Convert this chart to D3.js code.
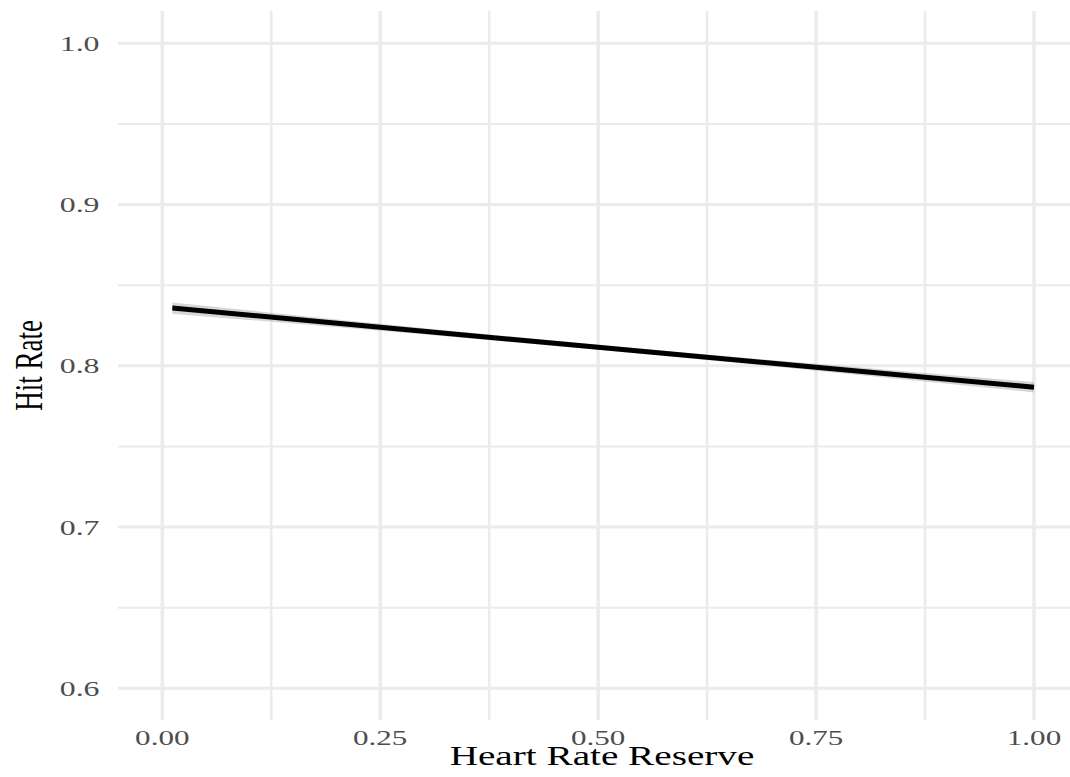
<!DOCTYPE html>
<html>
<head>
<meta charset="utf-8">
<script src="https://cdn.jsdelivr.net/npm/d3@7"></script>
<style>
html,body{margin:0;padding:0;background:#fff;}
svg{display:block;}
</style>
</head>
<body>
<svg id="chart" width="1070" height="777"></svg>
<script>
// ---- data ----
const fitX = [0.0115, 0.25, 0.5, 0.75, 1.0];
const fitY = [0.8358, 0.8239, 0.8115, 0.7991, 0.7867];
const fitSE = [0.0035, 0.0022, 0.0016, 0.0021, 0.0032];
const xMajorTicks = [0, 0.25, 0.5, 0.75, 1.0];
const xTickLabels = ["0.00", "0.25", "0.50", "0.75", "1.00"];
const xMinorTicks = [0.125, 0.375, 0.625, 0.875];
const yMajorTicks = [0.6, 0.7, 0.8, 0.9, 1.0];
const yTickLabels = ["0.6", "0.7", "0.8", "0.9", "1.0"];
const yMinorTicks = [0.65, 0.75, 0.85, 0.95];
const xTitle = "Heart Rate Reserve";
const yTitle = "Hit Rate";

// ---- layout ----
const svg = d3.select("#chart");
const panel = {left: 118, right: 1078, top: 11, bottom: 720};
const x = d3.scaleLinear().domain([0, 1]).range([162.3, 1034]);
const y = d3.scaleLinear().domain([0.6, 1.0]).range([688.3, 43.3]);
const stretch = 1.48;
const serif = "'Liberation Serif','Times New Roman',serif";

const grid = svg.append("g");
// minor grid
grid.selectAll(".yminor").data(yMinorTicks).join("line")
  .attr("x1", panel.left).attr("x2", panel.right)
  .attr("y1", d => y(d)).attr("y2", d => y(d))
  .attr("stroke", "#ebebeb").attr("stroke-width", 2);
grid.selectAll(".xminor").data(xMinorTicks).join("line")
  .attr("y1", panel.top).attr("y2", panel.bottom)
  .attr("x1", d => x(d)).attr("x2", d => x(d))
  .attr("stroke", "#ebebeb").attr("stroke-width", 2.5);
// major grid
grid.selectAll(".ymajor").data(yMajorTicks).join("line")
  .attr("x1", panel.left).attr("x2", panel.right)
  .attr("y1", d => y(d)).attr("y2", d => y(d))
  .attr("stroke", "#ebebeb").attr("stroke-width", 3);
grid.selectAll(".xmajor").data(xMajorTicks).join("line")
  .attr("y1", panel.top).attr("y2", panel.bottom)
  .attr("x1", d => x(d)).attr("x2", d => x(d))
  .attr("stroke", "#ebebeb").attr("stroke-width", 3.5);

// ribbon + line
const pts = fitX.map((d, i) => ({x: d, y: fitY[i], se: fitSE[i]}));
svg.append("path").datum(pts)
  .attr("d", d3.area().x(d => x(d.x)).y0(d => y(d.y - d.se)).y1(d => y(d.y + d.se)).curve(d3.curveMonotoneX))
  .attr("fill", "#999").attr("fill-opacity", 0.4);
svg.append("path").datum(pts)
  .attr("d", d3.line().x(d => x(d.x)).y(d => y(d.y)))
  .attr("fill", "none").attr("stroke", "#000").attr("stroke-width", 5);

// tick labels (stretched horizontally like the reference)
svg.append("g").selectAll("text").data(yMajorTicks).join("text")
  .attr("transform", d => `translate(99.5,${y(d) + 7.5}) scale(${stretch},1)`)
  .attr("text-anchor", "end")
  .attr("font-family", serif).attr("font-size", 21.5).attr("fill", "#4d4d4d")
  .text((d, i) => yTickLabels[i]);

svg.append("g").selectAll("text").data(xMajorTicks).join("text")
  .attr("transform", d => `translate(${x(d)},745) scale(${stretch},1)`)
  .attr("text-anchor", "middle")
  .attr("font-family", serif).attr("font-size", 21).attr("fill", "#4d4d4d")
  .text((d, i) => xTickLabels[i]);

// axis titles
svg.append("text")
  .attr("transform", `translate(${(panel.left + 1070) / 2 + 8},764.5) scale(${stretch},1)`)
  .attr("text-anchor", "middle")
  .attr("font-family", serif).attr("font-size", 26.5).attr("fill", "#000")
  .text(xTitle);
svg.append("text")
  .attr("transform", `translate(42,365.5) scale(${stretch},1) rotate(-90)`)
  .attr("text-anchor", "middle")
  .attr("font-family", serif).attr("font-size", 27).attr("fill", "#000")
  .text(yTitle);
</script>
</body>
</html>
